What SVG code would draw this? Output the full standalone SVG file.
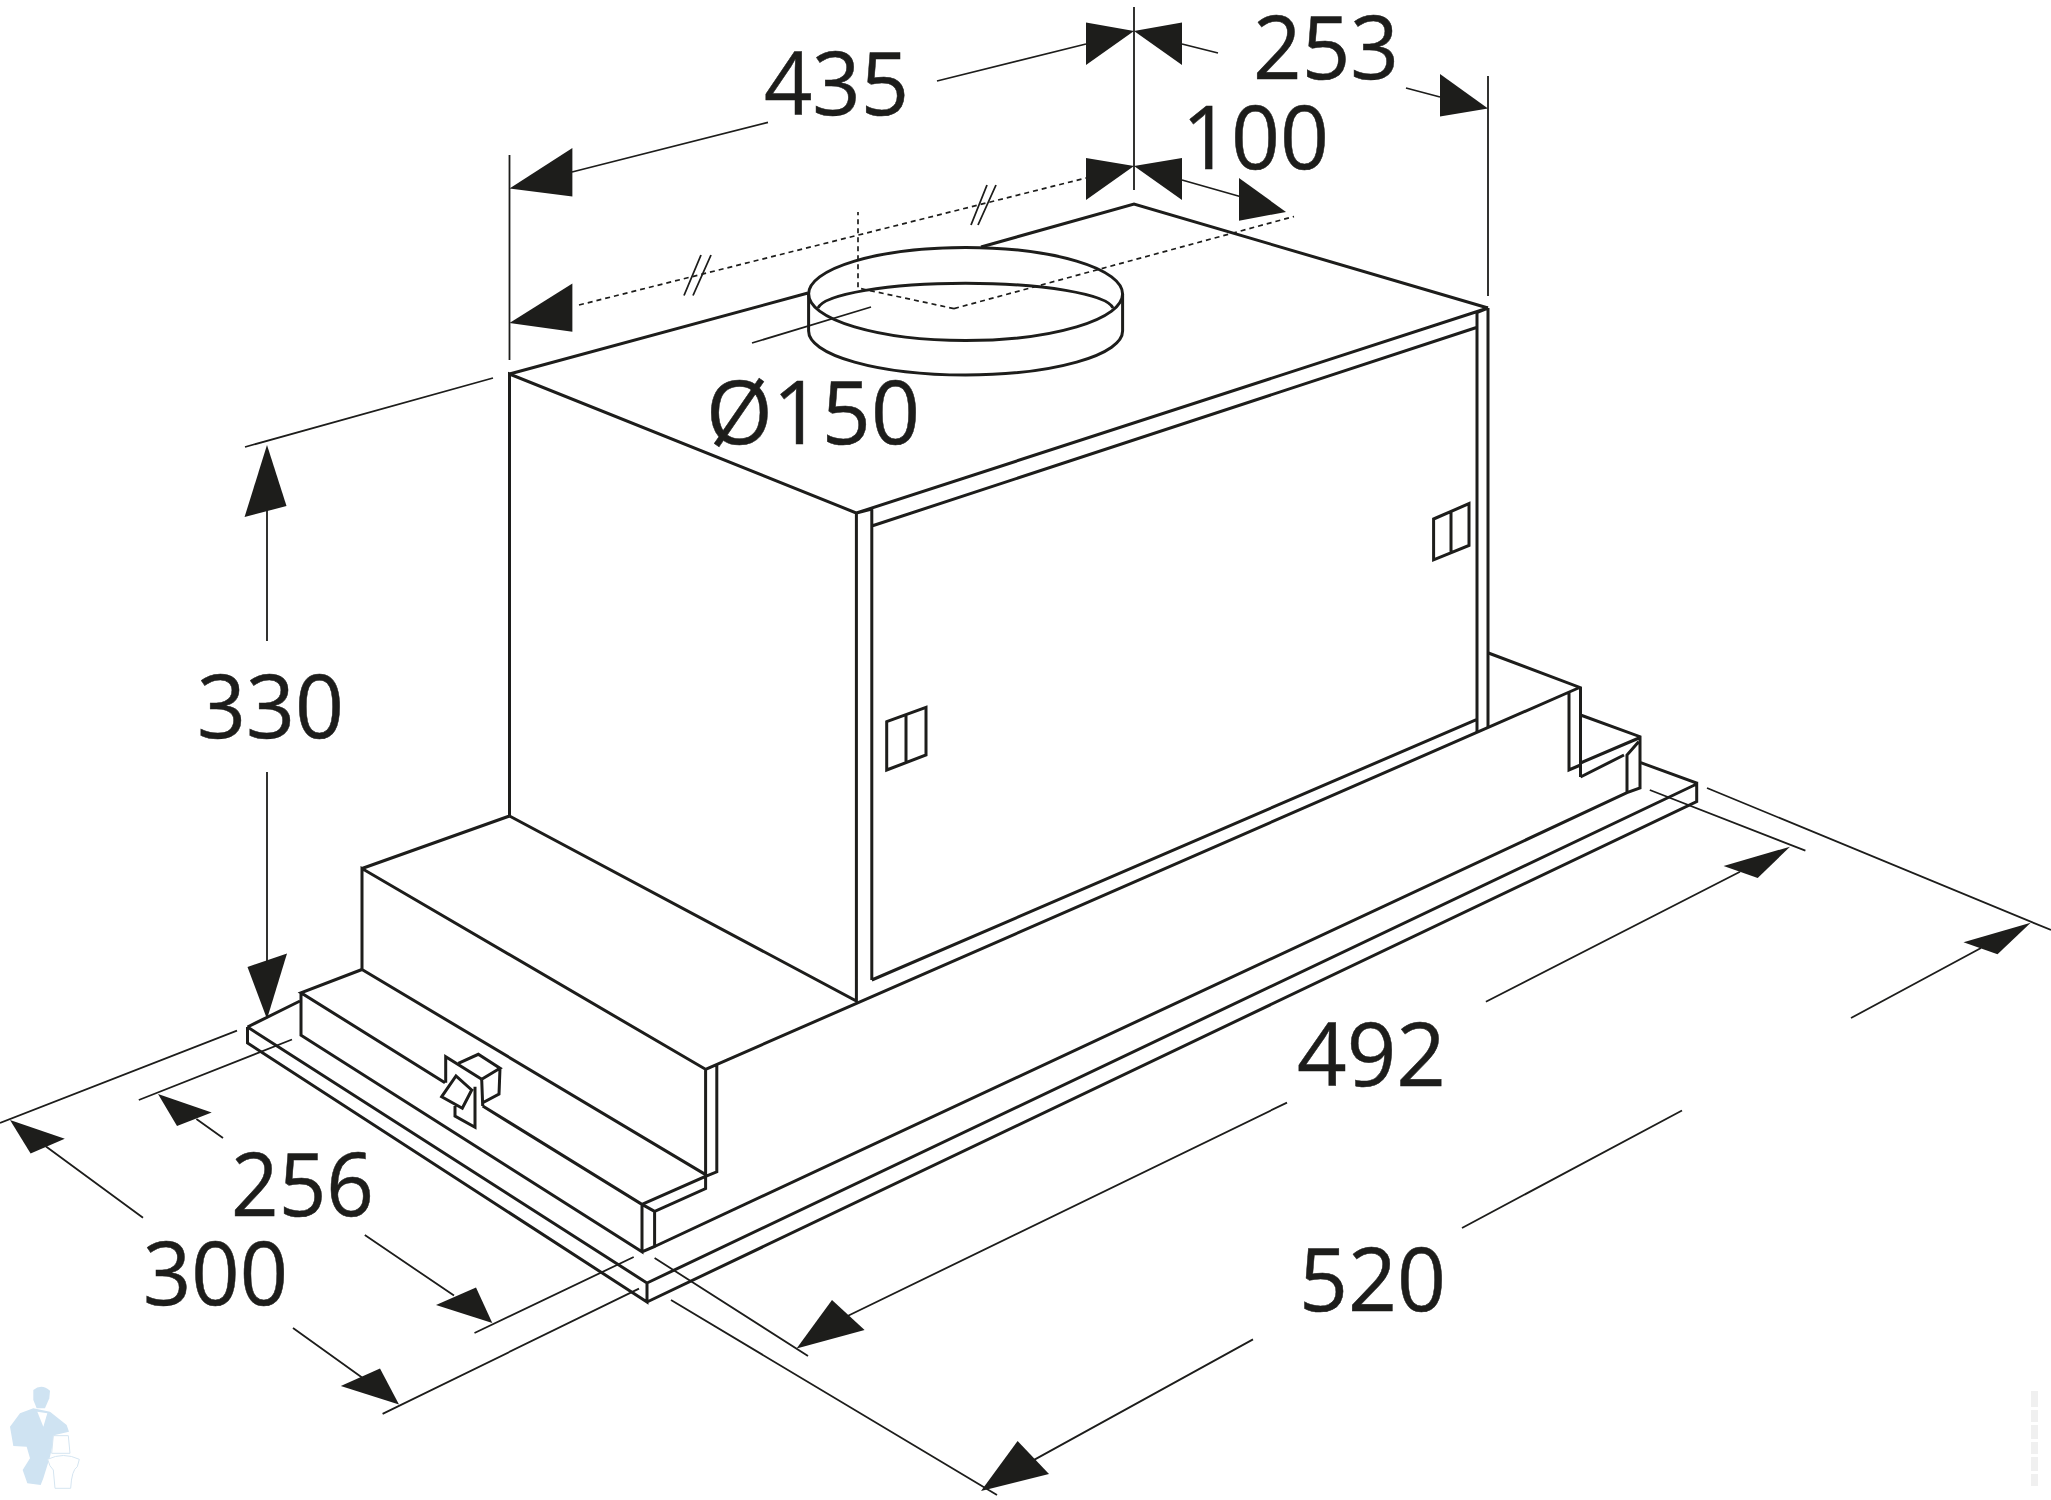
<svg xmlns="http://www.w3.org/2000/svg" width="2051" height="1500" viewBox="0 0 2051 1500">
<style>
.m{fill:none;stroke:#1d1d1b;stroke-width:3;stroke-linejoin:miter;stroke-linecap:butt}
.t{fill:none;stroke:#1d1d1b;stroke-width:1.8}
.d{fill:none;stroke:#1d1d1b;stroke-width:1.7;stroke-dasharray:5 4}
.a{fill:#1d1d1b;stroke:none}
text{font-family:"Open Sans","Noto Sans",sans-serif;font-size:87px;fill:#1d1d1b;stroke:#1d1d1b;stroke-width:.5}
.wm{fill:#cfe3f2;stroke:none}
.wo{fill:#fff;stroke:#d5e5f1;stroke-width:3}
</style>
<rect width="2051" height="1500" fill="#fff"/>
<g id="hood">
<g id="base-plate" class="m">
<path d="M247.500 1027L300 1001M247.500 1027V1043L647 1302V1283L247.500 1027M647 1283L1696.700 784V801.500L647 1302M1640.700 762.700L1696.700 783V801"/>
</g>
<g id="lower-step" class="m">
<path d="M301 993V1035.300L642 1251.800V1204.400L482.700 1106M445 1082.700L301 992.800L362 969.500M642 1204.400L705.600 1176.300V1188.600L654.600 1211.400V1246.500L642 1251.800M642 1204.400L654.600 1211.400M654.600 1246.500L1627 792.700L1640 788V736.700L1580.500 715M1627 792.700V755L1638.600 741.700M1580.500 763L1639 738M1580.500 777L1624 755"/>
</g>
<g id="upper-step" class="m">
<path d="M362 969.500V868.500L705.600 1069.300V1176.300M716.800 1065V1171.800L705.600 1176.300M362 868.500L509.500 816M362 969.500L705.600 1174.600M705.600 1069.300L1578.400 688M1488.400 653L1580.500 687.700V777M1569 693V770L1580.500 765"/>
</g>
<g id="switch" class="m">
<path d="M445.700 1082.700V1056.700L481.700 1079.300M475 1086.700V1127.300L455 1116V1106M441.700 1096.700L456 1076L471.700 1090L462.300 1108.300Z"/>
<path d="M458.300 1063.300L478.300 1054.300L500 1068.300L481.700 1079.300M500 1068.300L499 1094L482.700 1102.700M481.700 1079.300L482.700 1106"/>
</g>
<g id="box" class="m">
<path d="M509.500 816V374L856.400 513V1001L509.500 816M856.400 513L1488 308M1488 308V728M856.400 513L871.800 509V980M871.800 526L1478 327M1477 312V732M871.800 980L1477 719.300M1478 312L1488 308"/>
<path d="M509.500 374L808 293M981 247L1134 204L1488 308"/>
</g>
<g id="vent-1" class="m"><path d="M886.700 721.700L926 707.300V755L886.700 770ZM906 715V762.700"/></g>
<g id="vent-2" class="m"><path d="M1433.600 519L1469 503.600V545.400L1433.600 559.800ZM1451 511V552"/></g>
<g id="collar" class="m">
<ellipse cx="965.600" cy="294" rx="157" ry="46.500"/>
<path d="M818 308A148 27 0 0 1 1113 308M808.600 294V331A157 44 0 0 0 1122.600 331V294"/>
</g>
</g>
<g id="connectors">
<g class="d">
<path d="M579 305L1086 178M954 308.600L1294 216.500M954 308.600L858 288V212"/>
</g>
<g class="t">
<path d="M684 295.500L701 255M693 295.500L711 255M971 225L987 185M978 225L996 185"/>
<path d="M1134 7V190M509.500 155V360M1488 76V296"/>
<path d="M572 172L768 122.400M937 81L1086 44M1182 44L1218 53M1406 88L1440 97M1182 180L1240 196.500"/>
<path d="M752 343L871 307"/>
<path d="M245 447L493 378M267 510V641M267 772V968"/>
<path d="M0 1123L237 1030.700M138.800 1100L292 1039.500M46 1146.500L143 1217.700M196.400 1119L223 1138M364.800 1235L454 1295.600M474.500 1333L633.700 1257M293 1328L362 1377.400M382.600 1413.900L639 1288.600"/>
<path d="M654.600 1258L808 1356M671 1300L997 1495M847.600 1316L1287 1102.600M1485.900 1001.700L1740 871.700M1649.800 790L1805.400 850.700M1707 788L2051 930M1981 948L1851 1018M1682 1110.500L1462 1228M1253 1339.400L1020 1467.600"/>
</g>
<g class="a">
<polygon points="1134,31 1086,22.400 1086,65"/>
<polygon points="1134,31 1182,22.400 1182,65"/>
<polygon points="1488,108.600 1440,74 1440,116.500"/>
<polygon points="509.500,188.600 572.400,148 572.400,196.600"/>
<polygon points="1134,166 1086,158 1086,200"/>
<polygon points="1134,166 1182,158 1182,200"/>
<polygon points="1286,212 1239,178 1239,220.700"/>
<polygon points="509.500,323 572.400,283.400 572.400,331.700"/>
<polygon points="267,445 244.600,517 286.500,506"/>
<polygon points="267,1019 247.500,967 287,953.500"/>
<polygon points="10,1120 64.800,1138.800 30.600,1153.500"/>
<polygon points="158,1094 211.700,1112.500 177,1126"/>
<polygon points="492.300,1323 436,1305 476,1287.500"/>
<polygon points="399,1404.400 340.800,1386 380,1368.600"/>
<polygon points="796.600,1348.600 864.600,1330 832,1300"/>
<polygon points="1790,846.700 1723.600,866 1757.700,878"/>
<polygon points="2030.700,922.700 1963.500,942.300 1997.500,954.300"/>
<polygon points="981,1491 1049,1474 1017.600,1441"/>
</g>
</g>
<g id="labels">
<text x="764" y="115" textLength="145" lengthAdjust="spacingAndGlyphs">435</text>
<text x="1253" y="79" textLength="146" lengthAdjust="spacingAndGlyphs">253</text>
<text x="1182" y="169" textLength="147" lengthAdjust="spacingAndGlyphs">100</text>
<text x="706" y="444" textLength="214" lengthAdjust="spacingAndGlyphs">Ø150</text>
<text x="197" y="738" textLength="147" lengthAdjust="spacingAndGlyphs">330</text>
<text x="1297" y="1086" textLength="149" lengthAdjust="spacingAndGlyphs">492</text>
<text x="1299" y="1311" textLength="147" lengthAdjust="spacingAndGlyphs">520</text>
<text x="231" y="1216" textLength="143" lengthAdjust="spacingAndGlyphs">256</text>
<text x="143" y="1305" textLength="145" lengthAdjust="spacingAndGlyphs">300</text>
</g>
<g id="watermark" transform="translate(0 1370) scale(.3333)">
<path class="wm" d="M100 115L150 125L200 165L207 185L165 195L160 215L150 260L130 325L122 345L82 340L68 300L90 265L80 230L40 228L30 170L60 130Z"/>
<path class="wm" d="M100 60Q125 40 150 62L148 85L135 115H110L100 90Z"/>
<path d="M112 125L142 130L130 170Z" fill="#fff"/>
<path class="wo" d="M160 197H205L210 250H155ZM143 268Q190 245 238 268L232 290Q215 300 212 355H165L160 300Q148 290 143 268Z"/>
</g>
<g id="watermark-right" fill="#f0f0f0">
<rect x="2031" y="1391" width="7" height="16"/><rect x="2031" y="1410" width="7" height="12"/><rect x="2031" y="1425" width="7" height="14"/><rect x="2031" y="1442" width="7" height="12"/><rect x="2031" y="1457" width="7" height="14"/><rect x="2031" y="1474" width="7" height="12"/>
</g>
</svg>
